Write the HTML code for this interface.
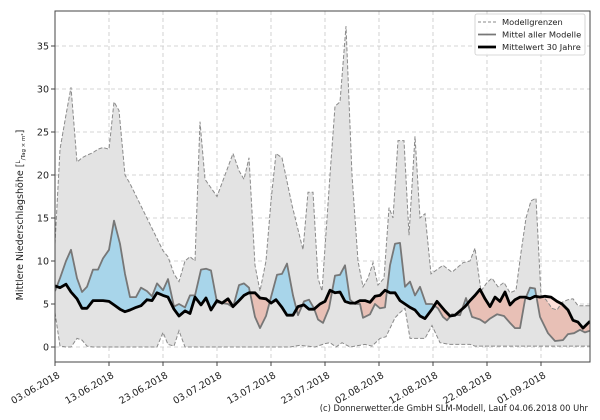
<!DOCTYPE html>
<html><head><meta charset="utf-8">
<style>
html,body{margin:0;padding:0;background:#fff;width:600px;height:420px;overflow:hidden}
svg{display:block;font-family:"DejaVu Sans","Liberation Sans",sans-serif}
</style></head><body>
<svg id="s" width="600" height="420" xmlns="http://www.w3.org/2000/svg">
<defs>
<clipPath id="plot"><rect x="55" y="11" width="535" height="351"/></clipPath>
<clipPath id="above30"><path id="ca"/></clipPath>
<clipPath id="below30"><path id="cb"/></clipPath>
</defs>
<g id="grid" stroke="#c8c8c8" stroke-width="0.8" stroke-dasharray="4,3" fill="none"></g>
<g clip-path="url(#plot)">
<path id="env" fill="#e3e3e3" stroke="none"/>
<path id="blue" fill="#a8d5ea" clip-path="url(#above30)"/>
<path id="red" fill="#e8c0b6" clip-path="url(#below30)"/>
<path id="pink" fill="#fde0da" clip-path="url(#below30)"/>
<path id="up" fill="none" stroke="#8a8a8a" stroke-width="1" stroke-dasharray="4,2"/>
<path id="lo" fill="none" stroke="#8a8a8a" stroke-width="1" stroke-dasharray="4,2"/>
<path id="mm" fill="none" stroke="#777" stroke-width="1.8" stroke-linejoin="round"/>
<path id="m30" fill="none" stroke="#000" stroke-width="2.8" stroke-linejoin="round"/>
</g>
<rect x="55" y="11" width="535" height="351" fill="none" stroke="#444" stroke-width="1"/>
<g id="yt" font-size="9.5" fill="#222" text-anchor="end"></g>
<g id="xt" font-size="9.5" fill="#222"></g>
<text transform="translate(23,215) rotate(-90)" font-size="9.5" fill="#222" text-anchor="middle">Mittlere Niederschlagshöhe [<tspan font-size="6" dy="-3">L</tspan><tspan font-size="5.5" dy="5">/Tag × m²</tspan><tspan dy="-2">]</tspan></text>
<rect x="475" y="14" width="110" height="41" rx="2" fill="#fff" fill-opacity="0.85" stroke="#ccc" stroke-width="0.8"/>
<line x1="478" y1="22" x2="496" y2="22" stroke="#8a8a8a" stroke-width="1" stroke-dasharray="3,2"/>
<line x1="478" y1="34.5" x2="496" y2="34.5" stroke="#777" stroke-width="1.8"/>
<line x1="478" y1="47" x2="496" y2="47" stroke="#000" stroke-width="2.8"/>
<g font-size="8.3" fill="#222">
<text x="502" y="25">Modellgrenzen</text>
<text x="502" y="37.5">Mittel aller Modelle</text>
<text x="502" y="50">Mittelwert 30 Jahre</text>
</g>
<text x="588" y="411" font-size="8.4" fill="#222" text-anchor="end">(c) Donnerwetter.de GmbH SLM-Modell, Lauf 04.06.2018 00 Uhr</text>
</svg>
<script>
function Y(v){return 347-8.6*v}
var up=[[55,12],[60,23],[66,27],[71,30.2],[77,21.5],[82,22],[87,22.3],[93,22.6],[98,23],[103,23.2],[109,23],[114,28.5],[119,27.5],[125,20],[130,19],[163,11.2],[168,10.5],[174,8.5],[179,7.6],[185,10],[190,10.5],[195,10],[200,26.2],[205,19.5],[211,18.5],[217,17.5],[225,20],[233,22.5],[239,20.5],[244,19.5],[249,22],[255,9.5],[260,6.5],[266,10],[271,17],[276,22.5],[282,22],[292,16.5],[303,11.3],[308,18],[313,18],[318,8],[322,6.5],[330,20],[335,28],[340,28.5],[346,37.3],[352,20],[358,10],[363,7],[368,8],[373,9.8],[378,7.2],[384,8],[389,16.2],[393,15],[398,24],[404,24],[409,13],[415,24.5],[420,15],[425,15.5],[431,8.5],[437,9],[443,9.5],[452,8.7],[458,9.3],[463,9.8],[470,10],[475,11.5],[481,6.5],[487,7.5],[492,8],[498,7],[504,7.5],[510,6.3],[516,6.6],[521,11],[526,15],[531,17],[536,17.3],[541,6],[546,5.5],[552,4.5],[557,4.3],[562,5.2],[568,5.5],[573,5.6],[578,4.8],[590,4.8]];
var lo=[[55,4],[60,0.1],[66,0],[71,0],[77,1],[82,0.8],[87,0.1],[93,0],[157,0],[163,1.7],[168,0.3],[174,0.1],[179,1.9],[185,0],[290,0],[300,0.2],[315,0],[325,0.4],[330,0.5],[336,0],[342,0.5],[350,0],[365,0.3],[372,0.1],[380,1],[386,1.2],[395,3.4],[400,4],[405,4.5],[410,1],[425,1],[432,2.5],[440,0.5],[450,0.3],[470,0.3],[475,0.1],[590,0.1]];
var mm=[[55,6.5],[60,8],[66,10],[71,11.3],[77,8],[82,6.4],[87,7],[93,9],[98,9],[103,10.3],[109,11.3],[114,14.7],[120,12],[125,8.5],[130,5.8],[136,5.8],[141,6.9],[147,6.5],[152,5.9],[157,7.4],[163,6.6],[168,7.9],[174,4.7],[179,5],[185,4.6],[190,6],[195,6],[201,9],[206,9.1],[211,8.9],[217,5.2],[222,5.1],[228,5],[233,4.6],[239,7.2],[244,7.4],[249,6.9],[255,3.5],[260,2.2],[266,3.6],[271,5.8],[277,8.4],[282,8.5],[287,9.7],[293,6],[298,3.7],[304,5.3],[309,5.5],[314,4.5],[318,3.2],[323,2.8],[329,4.5],[335,8.3],[340,8.4],[345,9.5],[350,5.5],[355,5],[360,5],[363,3.4],[370,3.8],[375,5],[380,4.5],[385,4.6],[390,9.5],[395,12],[400,12.1],[405,7],[410,7.6],[415,6],[420,7],[426,5],[432,5],[438,4.5],[443,3.5],[447,3.1],[452,3.8],[460,3.7],[466,5.7],[472,3.5],[480,3.2],[485,2.8],[490,3.3],[497,3.8],[504,3.6],[510,2.8],[515,2.2],[520,2.2],[525,5.5],[530,6.9],[535,6.8],[540,3.5],[548,1.6],[555,0.7],[563,0.8],[568,1.5],[574,1.6],[580,2.0],[585,1.7],[590,1.9]];
var m30=[[55,7.1],[60,6.9],[66,7.3],[71,6.4],[77,5.6],[82,4.5],[87,4.5],[93,5.4],[103,5.4],[109,5.3],[114,4.9],[120,4.4],[125,4.1],[130,4.3],[136,4.6],[141,4.8],[147,5.5],[152,5.4],[157,6.3],[163,6.0],[168,5.8],[174,4.4],[179,3.6],[185,4.2],[190,3.9],[195,5.8],[201,4.9],[206,5.7],[211,4.3],[217,5.4],[222,5.1],[228,5.6],[233,4.7],[239,5.4],[244,6.0],[249,6.3],[255,6.3],[260,5.7],[266,5.6],[271,5.1],[276,5.5],[282,4.6],[287,3.7],[293,3.7],[298,4.7],[304,4.9],[309,4.4],[314,4.4],[320,5.0],[325,5.3],[330,6.6],[335,6.3],[340,6.4],[345,5.3],[350,5.1],[355,5.1],[360,5.4],[365,5.4],[370,5.2],[375,5.9],[380,6.0],[385,6.6],[390,6.3],[395,6.3],[400,5.4],[405,5.0],[410,4.6],[415,4.3],[420,3.6],[425,3.3],[432,4.4],[437,5.3],[445,4.2],[450,3.6],[455,3.7],[460,4.2],[465,4.7],[470,5.4],[475,6.0],[480,6.7],[485,5.6],[490,4.7],[495,5.8],[500,5.3],[505,6.4],[510,4.9],[515,5.5],[520,5.8],[525,5.8],[530,5.6],[535,5.9],[540,5.8],[545,5.9],[551,5.8],[557,5.3],[562,5.0],[568,4.3],[573,3.1],[578,2.9],[583,2.2],[590,3.0]];
function pts(a){return a.map(function(p){return p[0]+","+Y(p[1]).toFixed(1)}).join(" L")}
function rev(a){return a.slice().reverse()}
var g=document;
g.getElementById("up").setAttribute("d","M"+pts(up));
g.getElementById("lo").setAttribute("d","M"+pts(lo));
g.getElementById("mm").setAttribute("d","M"+pts(mm));
g.getElementById("m30").setAttribute("d","M"+pts(m30));
g.getElementById("env").setAttribute("d","M"+pts(up)+" L"+pts(rev(lo))+"Z");
g.getElementById("ca").setAttribute("d","M"+pts(m30)+" L590,0 L55,0Z");
g.getElementById("cb").setAttribute("d","M"+pts(m30)+" L590,420 L55,420Z");
g.getElementById("blue").setAttribute("d","M"+pts(mm)+" L590,420 L55,420Z");
g.getElementById("red").setAttribute("d","M"+pts(mm)+" L590,0 L55,0Z");
g.getElementById("pink").setAttribute("d","M"+pts(up)+" L590,0 L55,0Z");
var NS="http://www.w3.org/2000/svg";
function el(n,a,p,t){var e=g.createElementNS(NS,n);for(var k in a)e.setAttribute(k,a[k]);if(t)e.textContent=t;p.appendChild(e);return e}
var grid=g.getElementById("grid"),yt=g.getElementById("yt"),xt=g.getElementById("xt"),s=g.getElementById("s");
for(var v=0;v<=35;v+=5){var y=Y(v);el("line",{x1:55,x2:590,y1:y,y2:y},grid);el("line",{x1:51,x2:55,y1:y,y2:y,stroke:"#444"},s);el("text",{x:49,y:y+3.5},yt,""+v)}
var d=["03.06.2018","13.06.2018","23.06.2018","03.07.2018","13.07.2018","23.07.2018","02.08.2018","12.08.2018","22.08.2018","01.09.2018"];
for(var i=0;i<10;i++){var x=55+54*i;el("line",{x1:x,x2:x,y1:11,y2:362},grid);el("line",{x1:x,x2:x,y1:362,y2:366,stroke:"#444"},s);
el("text",{transform:"translate("+(x+2)+",371) rotate(-30)","text-anchor":"end",y:"7"},xt,d[i])}
</script>
</body></html>
